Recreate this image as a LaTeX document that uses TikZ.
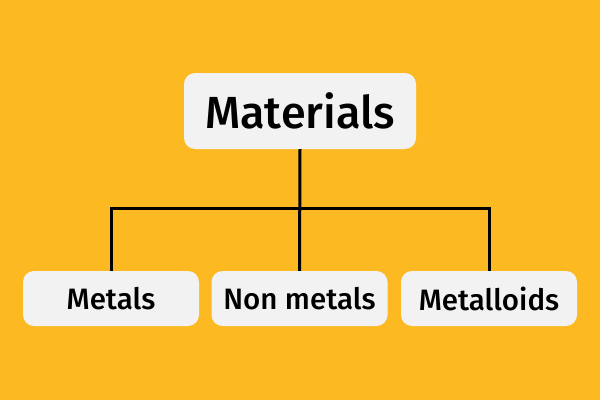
\documentclass[tikz,border=0pt]{standalone}
\usepackage{fontspec}
\setmainfont{Fira Sans}[UprightFont={* Medium}]
\definecolor{bgyellow}{HTML}{FDB922}
\definecolor{boxgray}{HTML}{F2F2F2}

\begin{document}
\begin{tikzpicture}[
  x=1pt, y=1pt,
  box/.style={fill=boxgray, rounded corners=11pt, inner sep=0pt},
  topbox/.style={box, minimum width=232pt, minimum height=76pt, font=\fontsize{45}{45}\selectfont},
  leafbox/.style={box, minimum width=176pt, minimum height=55pt, font=\fontsize{29.5}{29.5}\selectfont},
  conn/.style={line width=3pt, black}
]
\fill [bgyellow] (0,0) rectangle (600,400);

\node [topbox] (mat) at (300,289) {Materials};
\node [leafbox] (metals) at (111,101.5) {Metals};
\node [leafbox] (nonmetals) at (299.5,101.5) {Non metals};
\node [leafbox] (metalloids) at (489,101.5) {Metalloids};

\coordinate (bus) at (300,192);
\draw [conn] (mat.south) -- (nonmetals.north);
\draw [conn] (metals.north) |- (bus) -| (metalloids.north);
\end{tikzpicture}
\end{document}
